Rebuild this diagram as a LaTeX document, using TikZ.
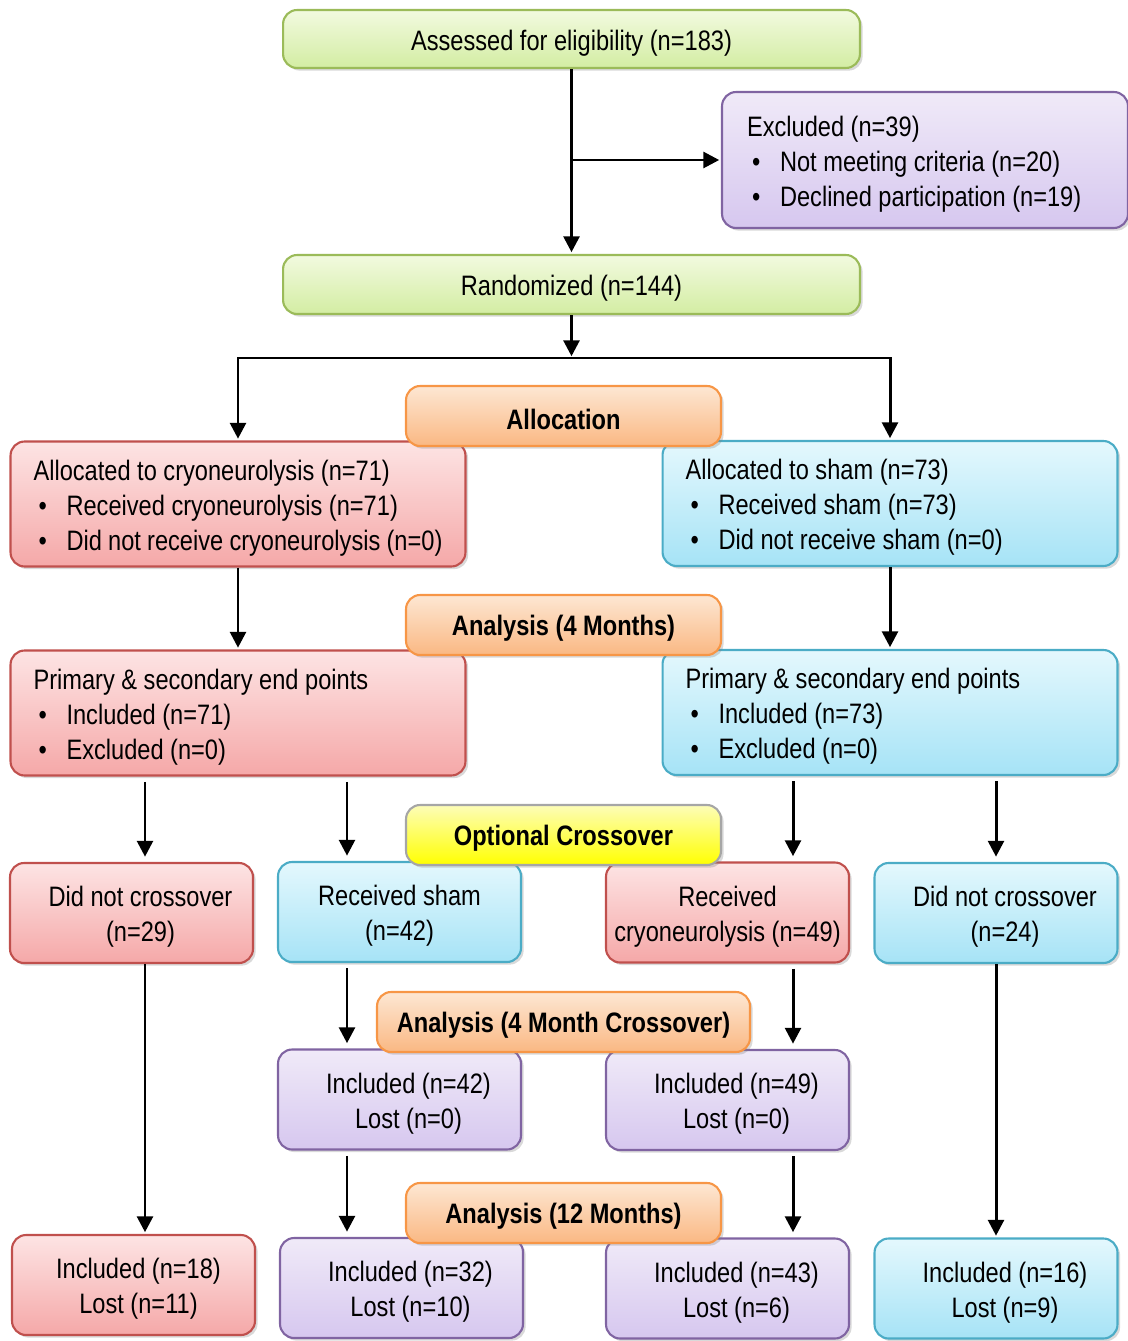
\documentclass[tikz,border=0pt]{standalone}
\usepackage{fontspec}
\setmainfont{Liberation Sans}[FakeStretch=0.84]
\usetikzlibrary{arrows.meta, shadows}

\definecolor{grnTop}{HTML}{F2FADF}
\definecolor{grnBot}{HTML}{D3EDA3}
\definecolor{grnLine}{HTML}{9BBB59}
\definecolor{purTop}{HTML}{F0EAF8}
\definecolor{purBot}{HTML}{D6C7EF}
\definecolor{purLine}{HTML}{8064A2}
\definecolor{redTop}{HTML}{FDE4E4}
\definecolor{redBot}{HTML}{F5A8A8}
\definecolor{redLine}{HTML}{C0504D}
\definecolor{bluTop}{HTML}{E4F8FD}
\definecolor{bluBot}{HTML}{A6E3F6}
\definecolor{bluLine}{HTML}{4BACC6}
\definecolor{oraTop}{HTML}{FDE7D3}
\definecolor{oraBot}{HTML}{FAB883}
\definecolor{oraLine}{HTML}{F79646}
\definecolor{ylwTop}{HTML}{FDFDB8}
\definecolor{ylwBot}{HTML}{FFFF00}
\definecolor{ylwLine}{HTML}{A6A6A6}

\newcommand\bull{\hspace*{0.1cm}\makebox[0.56cm][l]{\textbullet}}

\tikzset{
  box/.style={rounded corners=8pt, line width=1.2pt,
    drop shadow={shadow xshift=1.5pt, shadow yshift=-1.5pt, opacity=0.3}},
  grnbox/.style={box, draw=grnLine, top color=grnTop, bottom color=grnBot, lowtxt},
  purbox/.style={box, draw=purLine, top color=purTop, bottom color=purBot, lowtxt},
  redbox/.style={box, draw=redLine, top color=redTop, bottom color=redBot, lowtxt},
  blubox/.style={box, draw=bluLine, top color=bluTop, bottom color=bluBot, lowtxt},
  orabox/.style={box, draw=oraLine, top color=oraTop, bottom color=oraBot},
  ylwbox/.style={box, draw=ylwLine, top color=ylwTop, bottom color=ylwBot},
  lowtxt/.style={execute at begin node={\rule{0pt}{16.2pt}}},
  plainsp/.style={execute at begin node={\spaceskip=0pt\xspaceskip=0pt}},
  bigbox/.style={text width=8.18cm, inner xsep=0.46cm, align=flush left, plainsp, minimum height=2.5cm},
  smallbox/.style={minimum width=4.86cm, minimum height=2cm, inner xsep=0pt, text width=4.6cm, align=flush center, plainsp},
  hdr/.style={minimum width=6.3cm, minimum height=1.2cm, font=\fontsize{16}{20}\selectfont\bfseries,
    execute at begin node={\rule{0pt}{15pt}}},
  arr/.style={-{Triangle[length=9pt, width=9pt]}, line width=1.7pt, shorten >=1pt},
  gap/.style={shorten <=3pt, shorten >=3pt}
}

\begin{document}
\begin{tikzpicture}[x=0.02cm, y=-0.02cm, font=\fontsize{16}{20}\selectfont]
\useasboundingbox (0,0) rectangle (1128,1341);

% Enrolment
\node[grnbox, minimum width=11.54cm, minimum height=1.16cm] (assess) at (571.5,39) {Assessed for eligibility (n=183)};
\node[purbox, text width=7.12cm, inner xsep=0.5cm, align=flush left, plainsp, minimum height=2.72cm] (excl) at (925,160)
  {Excluded (n=39)\\ \bull Not meeting criteria (n=20)\\ \bull Declined participation (n=19)};
\node[grnbox, minimum width=11.54cm, minimum height=1.18cm] (random) at (571.5,284.5) {Randomized (n=144)};

% Allocation
\node[redbox, bigbox] (cryo) at (238,504)
  {Allocated to cryoneurolysis (n=71)\\ \bull Received cryoneurolysis (n=71)\\ \bull Did not receive cryoneurolysis (n=0)};
\node[blubox, bigbox] (sham) at (890,503.5)
  {Allocated to sham (n=73)\\ \bull Received sham (n=73)\\ \bull Did not receive sham (n=0)};

% Analysis (4 months)
\node[redbox, bigbox] (primL) at (238,713)
  {Primary \& secondary end points\\ \bull Included (n=71)\\ \bull Excluded (n=0)};
\node[blubox, bigbox] (primR) at (890,712.5)
  {Primary \& secondary end points\\ \bull Included (n=73)\\ \bull Excluded (n=0)};

% Crossover
\node[redbox, smallbox] (nocL) at (131.5,913) {\hspace*{0.36cm}Did not crossover\\\hspace*{0.36cm}(n=29)};
\node[blubox, smallbox] (shamX) at (399.5,912) {Received sham\\(n=42)};
\node[redbox, smallbox] (cryoX) at (727.5,912.5) {Received\\cryoneurolysis (n=49)};
\node[blubox, smallbox] (nocR) at (996,913) {\hspace*{0.36cm}Did not crossover\\\hspace*{0.36cm}(n=24)};

% Analysis (4 month crossover)
\node[purbox, smallbox] (inc42) at (399.5,1099.5) {\hspace*{0.36cm}Included (n=42)\\\hspace*{0.36cm}Lost (n=0)};
\node[purbox, smallbox] (inc49) at (727.5,1100) {\hspace*{0.36cm}Included (n=49)\\\hspace*{0.36cm}Lost (n=0)};

% Analysis (12 months)
\node[redbox, smallbox] (inc18) at (133.5,1285) {\hspace*{0.2cm}Included (n=18)\\\hspace*{0.2cm}Lost (n=11)};
\node[purbox, smallbox] (inc32) at (401.5,1288) {\hspace*{0.36cm}Included (n=32)\\\hspace*{0.36cm}Lost (n=10)};
\node[purbox, smallbox] (inc43) at (727.5,1288.5) {\hspace*{0.36cm}Included (n=43)\\\hspace*{0.36cm}Lost (n=6)};
\node[blubox, smallbox] (inc16) at (996,1288.5) {\hspace*{0.36cm}Included (n=16)\\\hspace*{0.36cm}Lost (n=9)};

% Phase headers
\node[orabox, hdr] (hAlloc) at (563.5,416) {Allocation};
\node[orabox, hdr] (hFour) at (563.5,625) {Analysis (4 Months)};
\node[ylwbox, hdr] (hCross) at (563.5,835) {Optional Crossover};
\node[orabox, hdr, minimum width=7.46cm] (hFourX) at (563.5,1022) {Analysis (4 Month Crossover)};
\node[orabox, hdr] (hTwelve) at (563.5,1213) {Analysis (12 Months)};

% Connectors
\coordinate (branch) at (assess.south |- excl.west);
\coordinate (split) at (571.5,358);
\draw[arr] (assess) -- (random);
\draw[arr] (branch) -- (excl.west);
\draw[arr] (random) -- (split);
\draw[arr] (split) -| (cryo);
\draw[arr] (split) -| (sham);
\draw[arr] (cryo) -- (primL);
\draw[arr] (sham) -- (primR);
\draw[arr, gap] (145,0 |- primL.south) -- (145,0 |- nocL.north);
\draw[arr, gap] (347,0 |- primL.south) -- (347,0 |- shamX.north);
\draw[arr, gap] (793,0 |- primR.south) -- (793,0 |- cryoX.north);
\draw[arr, gap] (996,0 |- primR.south) -- (996,0 |- nocR.north);
\draw[arr] (145,0 |- nocL.south) -- (145,0 |- inc18.north);
\draw[arr, gap] (347,0 |- shamX.south) -- (347,0 |- inc42.north);
\draw[arr, gap] (793,0 |- cryoX.south) -- (793,0 |- inc49.north);
\draw[arr] (996,0 |- nocR.south) -- (996,0 |- inc16.north);
\draw[arr, gap] (347,0 |- inc42.south) -- (347,0 |- inc32.north);
\draw[arr, gap] (793,0 |- inc49.south) -- (793,0 |- inc43.north);

\end{tikzpicture}
\end{document}
